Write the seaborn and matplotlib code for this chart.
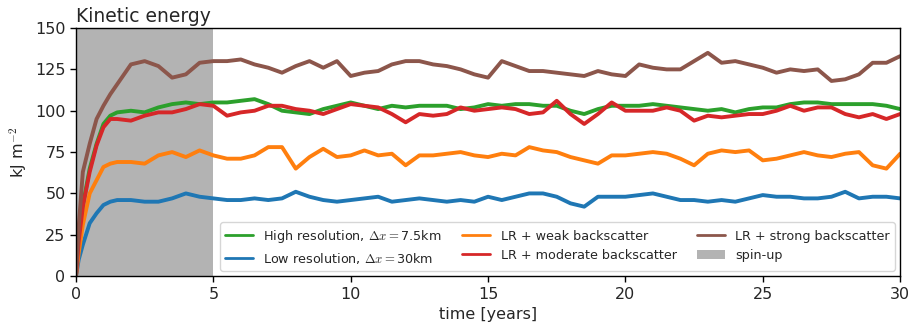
import numpy as np
import pandas as pd
import matplotlib
matplotlib.use("Agg")
import matplotlib.pyplot as plt
import seaborn as sns
from matplotlib.patches import Patch

# ---- data ----
time = [0, 0.1, 0.25, 0.5, 0.75, 1.0, 1.25, 1.5,
        2.0, 2.5, 3.0, 3.5, 4.0, 4.5, 5.0, 5.5, 6.0, 6.5, 7.0, 7.5,
        8.0, 8.5, 9.0, 9.5, 10.0, 10.5, 11.0, 11.5, 12.0, 12.5, 13.0, 13.5,
        14.0, 14.5, 15.0, 15.5, 16.0, 16.5, 17.0, 17.5, 18.0, 18.5, 19.0, 19.5,
        20.0, 20.5, 21.0, 21.5, 22.0, 22.5, 23.0, 23.5, 24.0, 24.5, 25.0, 25.5,
        26.0, 26.5, 27.0, 27.5, 28.0, 28.5, 29.0, 29.5, 30.0]

high_res = [0, 22, 43, 65, 80, 92, 97, 99,
            100, 99, 102, 104, 105, 104, 105, 105, 106, 107, 104, 100,
            99, 98, 101, 103, 105, 103, 101, 103, 102, 103, 103, 103,
            101, 102, 104, 103, 104, 104, 103, 103, 100, 98, 101, 103,
            103, 103, 104, 103, 102, 101, 100, 101, 99, 101, 102, 102,
            104, 105, 105, 104, 104, 104, 104, 103, 101]

low_res = [0, 10, 19, 32, 38, 43, 45, 46,
           46, 45, 45, 47, 50, 48, 47, 46, 46, 47, 46, 47,
           51, 48, 46, 45, 46, 47, 48, 45, 46, 47, 46, 45,
           46, 45, 48, 46, 48, 50, 50, 48, 44, 42, 48, 48,
           48, 49, 50, 48, 46, 46, 45, 46, 45, 47, 49, 48,
           48, 47, 47, 48, 51, 47, 48, 48, 47]

weak_bs = [0, 14, 31, 50, 58, 66, 68, 69,
           69, 68, 73, 75, 72, 76, 73, 71, 71, 73, 78, 78,
           65, 72, 77, 72, 73, 76, 73, 74, 67, 73, 73, 74,
           75, 73, 72, 74, 73, 78, 76, 75, 72, 70, 68, 73,
           73, 74, 75, 74, 71, 67, 74, 76, 75, 76, 70, 71,
           73, 75, 73, 72, 74, 75, 67, 65, 74]

moderate_bs = [0, 21, 42, 63, 79, 90, 95, 95,
               94, 97, 99, 99, 101, 104, 103, 97, 99, 100, 103, 103,
               101, 100, 98, 101, 104, 103, 102, 98, 93, 98, 97, 98,
               102, 100, 101, 102, 101, 98, 99, 106, 98, 92, 98, 105,
               100, 100, 100, 102, 100, 94, 97, 96, 97, 98, 98, 100,
               103, 100, 102, 102, 98, 96, 98, 95, 98]

strong_bs = [0, 30, 63, 80, 95, 103, 110, 116,
             128, 130, 127, 120, 122, 129, 130, 130, 131, 128, 126, 123,
             127, 130, 126, 130, 121, 123, 124, 128, 130, 130, 128, 127,
             125, 122, 120, 130, 127, 124, 124, 123, 122, 121, 124, 122,
             121, 128, 126, 125, 125, 130, 135, 129, 130, 128, 126, 123,
             125, 124, 125, 118, 119, 122, 129, 129, 133]

spinup = [0, 5]

labels = [r"High resolution, $\Delta x=$7.5km",
          r"Low resolution, $\Delta x=$30km",
          "LR + weak backscatter",
          "LR + moderate backscatter",
          "LR + strong backscatter"]
colors = ["#2ca02c", "#1f77b4", "#ff7f0e", "#d62728", "#8c564b"]
series = [high_res, low_res, weak_bs, moderate_bs, strong_bs]

# ---- plot ----
sns.set_style("ticks")
plt.rcParams['font.family'] = ['DejaVu Sans']
plt.rcParams['mathtext.fontset'] = 'cm'

fig = plt.figure(figsize=(9.12, 3.26), dpi=100)
ax = fig.add_axes([0.0833, 0.153, 0.9037, 0.761])

ax.axvspan(spinup[0], spinup[1], color="#b3b3b3", lw=0, zorder=0)

handles = []
for lab, col, vals in zip(labels, colors, series):
    sns.lineplot(x=time, y=vals, ax=ax, color=col, lw=2.8, legend=False)
    handles.append(plt.Line2D([], [], color=col, lw=2))
handles.append(Patch(facecolor="#b3b3b3", edgecolor="none"))

ax.set_xlim(0, 30)
ax.set_ylim(0, 150)
ax.set_xticks([0, 5, 10, 15, 20, 25, 30])
ax.set_yticks([0, 25, 50, 75, 100, 125, 150])
ax.tick_params(labelsize=11.5, length=4, width=1, color="black")
for s in ax.spines.values():
    s.set_color("black")
    s.set_linewidth(1)
ax.set_xlabel("time [years]", fontsize=11.5)
ax.set_ylabel(r"kJ m$^{-2}$", fontsize=11.5)
ax.set_title("Kinetic energy", loc="left", fontsize=13.5, pad=4)

ax.legend(handles, labels + ["spin-up"], ncol=3, loc="lower right",
          fontsize=9.2, frameon=True, framealpha=0.8, edgecolor="#cccccc",
          handlelength=2.2, columnspacing=1.6, borderaxespad=0.4)

fig.savefig("out.png", dpi=100)
